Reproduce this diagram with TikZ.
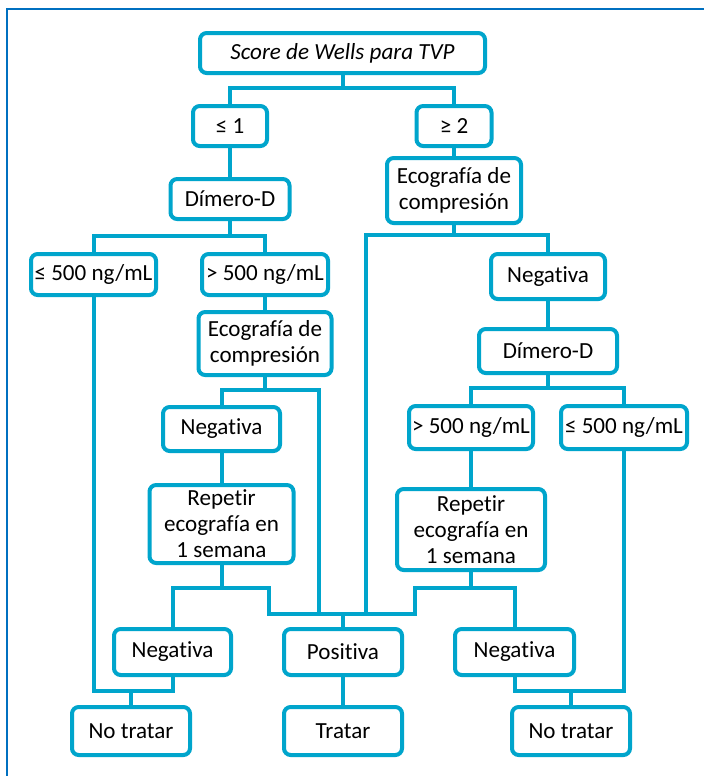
\documentclass[tikz,border=0pt]{standalone}
\usepackage{fontspec}
\setmainfont[Ligatures={NoCommon}]{Carlito}
\newdimen\px \px=0.75pt
\definecolor{boxc}{RGB}{0,165,204}
\definecolor{framec}{RGB}{0,112,192}
\begin{document}
\begin{tikzpicture}[x=0.75pt,y=-0.75pt,
  box/.style={draw=boxc,line width=3pt,rounded corners=5pt,fill=white,align=center,
    inner sep=0pt,font=\fontsize{17.3}{19.5}\selectfont},
  conn/.style={draw=boxc,line width=3pt}]
\useasboundingbox (0,0) rectangle (704,776);
\fill[white] (0,0) rectangle (704,776);
\draw[framec,line width=2.2pt] (7,776) -- (7,9) -- (704,9);
% nodes
\node[box,minimum width=285\px,minimum height=40\px,font=\fontsize{17.3}{19.5}\selectfont\itshape] (title) at (342.5,53) {Score de Wells para TVP};
\node[box,minimum width=74\px,minimum height=40\px] (le1) at (230,126) {≤ 1};
\node[box,minimum width=75\px,minimum height=40\px] (ge2) at (454,126) {≥ 2};
\node[box,minimum width=119\px,minimum height=40\px] (dimL) at (230,199) {Dímero-D};
\node[box,minimum width=134\px,minimum height=65\px] (ecoT) at (454,190.5) {Ecografía de\\compresión};
\node[box,minimum width=125\px,minimum height=41\px] (le500L) at (93.5,274.5) {≤ 500 ng/mL};
\node[box,minimum width=126\px,minimum height=41\px] (gt500L) at (265,274.5) {> 500 ng/mL};
\node[box,minimum width=133\px,minimum height=63\px] (ecoL) at (265,343.5) {Ecografía de\\compresión};
\node[box,minimum width=114\px,minimum height=45\px] (negR1) at (548,276.5) {Negativa};
\node[box,minimum width=138\px,minimum height=44\px] (dimR) at (548,351) {Dímero-D};
\node[box,minimum width=117\px,minimum height=44\px] (negL1) at (221.5,429) {Negativa};
\node[box,minimum width=124\px,minimum height=43\px] (gt500R) at (471,427.5) {> 500 ng/mL};
\node[box,minimum width=126\px,minimum height=43\px] (le500R) at (624,427.5) {≤ 500 ng/mL};
\node[box,minimum width=144\px,minimum height=78\px] (repL) at (221.5,524) {Repetir\\ecografía en\\1 semana};
\node[box,minimum width=148\px,minimum height=81\px] (repR) at (471,529.5) {Repetir\\ecografía en\\1 semana};
\node[box,minimum width=117\px,minimum height=46\px] (negL2) at (172.5,652) {Negativa};
\node[box,minimum width=118\px,minimum height=46\px] (pos) at (343,652) {Positiva};
\node[box,minimum width=119\px,minimum height=46\px] (negR2) at (514.5,652) {Negativa};
\node[box,minimum width=118\px,minimum height=48\px] (ntL) at (131,731) {No tratar};
\node[box,minimum width=118\px,minimum height=48\px] (trat) at (343,731) {Tratar};
\node[box,minimum width=118\px,minimum height=48\px] (ntR) at (571,731) {No tratar};
% junction coordinates
\coordinate (j1) at (342.5,88);
\coordinate (j2) at (230,236);
\coordinate (j3) at (454,235);
\coordinate (j4) at (265,390);
\coordinate (j5) at (548,388);
\coordinate (jRL) at (221.5,588);
\coordinate (jRR) at (471,588);
\coordinate (jP) at (343,614);
\coordinate (jPL) at (269,614);
\coordinate (jPR) at (415,614);
\coordinate (jE) at (319,614);
\coordinate (jT) at (366,614);
\coordinate (jNL) at (131,691);
\coordinate (jNR) at (571,691);
\draw[conn] (title.south) -- (j1);
\draw[conn] (le1.north) |- (j1) -| (ge2.north);
\draw[conn] (le1.south) -- (dimL.north);
\draw[conn] (ge2.south) -- (ecoT.north);
\draw[conn] (dimL.south) -- (j2);
\draw[conn] (le500L.north) |- (j2) -| (gt500L.north);
\draw[conn] (ecoT.south) -- (j3);
\draw[conn] (jT) |- (j3) -| (negR1.north);
\draw[conn] (gt500L.south) -- (ecoL.north);
\draw[conn] (ecoL.south) -- (j4);
\draw[conn] (negL1.north) |- (j4) -| (jE);
\draw[conn] (negR1.south) -- (dimR.north);
\draw[conn] (dimR.south) -- (j5);
\draw[conn] (gt500R.north) |- (j5) -| (le500R.north);
\draw[conn] (negL1.south) -- (repL.north);
\draw[conn] (gt500R.south) -- (repR.north);
\draw[conn] (repL.south) -- (jRL);
\draw[conn] (repR.south) -- (jRR);
\draw[conn] (negL2.north) |- (jRL) -| (jPL) -- (jPR) |- (jRR) -| (negR2.north);
\draw[conn] (jP) -- (pos.north);
\draw[conn] (pos.south) -- (trat.north);
\draw[conn] (le500L.south) |- (jNL) -| (negL2.south);
\draw[conn] (jNL) -- (ntL.north);
\draw[conn] (negR2.south) |- (jNR) -| (le500R.south);
\draw[conn] (jNR) -- (ntR.north);
\end{tikzpicture}
\end{document}
